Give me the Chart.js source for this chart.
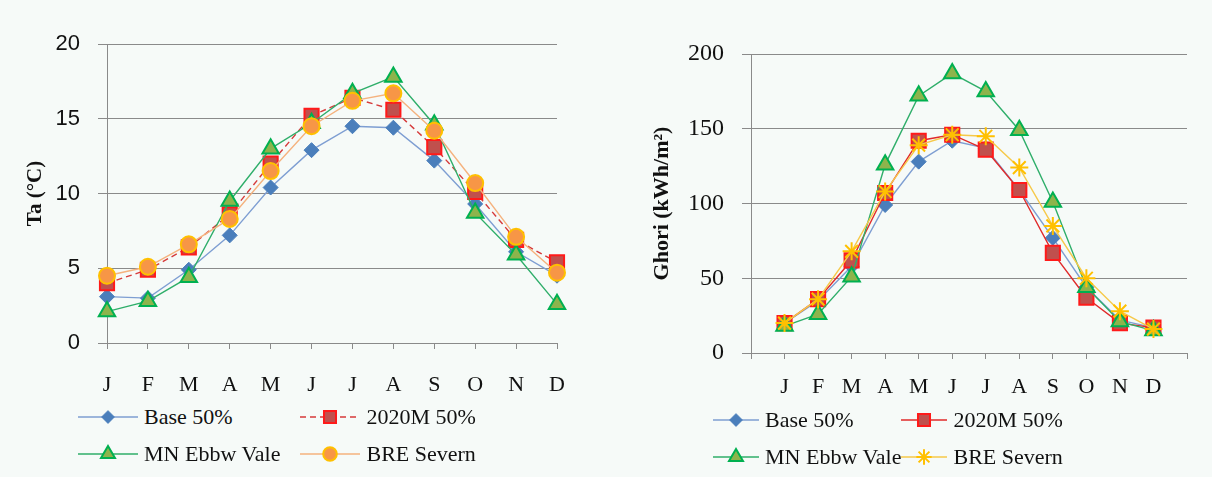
<!DOCTYPE html>
<html lang="en">
<head>
    <meta charset="UTF-8">
    <title>Ta and Ghori by month</title>
    <style>
        body { margin: 0; background: #f6faf8; }
        .page { position: relative; width: 1212px; height: 477px; background: #f6faf8; overflow: hidden; }
        .box { position: absolute; top: 0; }
        .legend { position: absolute; display: grid; grid-template-columns: auto auto; row-gap: 10px;
                  font-family: "Liberation Serif", serif; font-size: 22px; color: #111; }
        .legend .item { display: flex; align-items: center; height: 27px; }
        .legend canvas { margin-right: 6px; }
    </style>
</head>
<body>
<div class="page">
    <div class="box" style="left:0; width:600px; height:400px;"><canvas id="graficaTa"></canvas></div>
    <div class="box" style="left:600px; width:612px; height:410px;"><canvas id="graficaGhori"></canvas></div>
    <div class="legend" id="leyendaTa" style="left:78px; top:403px; column-gap:20px;"></div>
    <div class="legend" id="leyendaGhori" style="left:713px; top:406px; column-gap:0px;"></div>
</div>

<script src="https://cdn.jsdelivr.net/npm/chart.js"></script>
<script>
    // month initials
    const meses = ['J', 'F', 'M', 'A', 'M', 'J', 'J', 'A', 'S', 'O', 'N', 'D'];
    const nombres = ['Base 50%', '2020M 50%', 'MN Ebbw Vale', 'BRE Severn'];

    // Ta (°C)
    const taBase = [3.1, 3.0, 4.9, 7.2, 10.4, 12.9, 14.5, 14.4, 12.2, 9.3, 6.1, 4.5];
    const ta2020 = [4.0, 4.9, 6.4, 8.6, 12.0, 15.2, 16.4, 15.6, 13.1, 10.1, 6.9, 5.4];
    const taEbbw = [2.1, 2.8, 4.4, 9.5, 13.0, 14.7, 16.7, 17.8, 14.6, 8.7, 5.9, 2.6];
    const taSevern = [4.5, 5.1, 6.6, 8.3, 11.5, 14.5, 16.2, 16.7, 14.2, 10.7, 7.1, 4.7];
    const taTicks = [0, 5, 10, 15, 20];

    // Ghori (kWh/m2)
    const ghBase = [20, 35, 58, 99, 128, 142, 137, 109, 77, 44, 22, 17];
    const gh2020 = [20, 36, 62, 107, 142, 146, 136, 109, 67, 37, 20, 17];
    const ghEbbw = [18, 26, 51, 126, 172, 187, 175, 149, 101, 44, 21, 15];
    const ghSevern = [20, 36, 68, 108, 139, 146, 145, 124, 85, 50, 28, 16];
    const ghTicks = [0, 50, 100, 150, 200];

    const gris = '#8a8a8a';

    const estilosTa = [
        { borderColor: '#7e9ed2', backgroundColor: '#4a7ebb', pointBorderColor: '#4a7ebb', pointStyle: 'rectRot', pointRadius: 7.5, pointBorderWidth: 1 },
        { borderColor: '#d63a3a', backgroundColor: '#c0504d', pointBorderColor: '#ff1a1a', pointStyle: 'rect', pointRadius: 10, pointBorderWidth: 2, borderDash: [6, 4] },
        { borderColor: '#2fae6a', backgroundColor: '#8db44c', pointBorderColor: '#00b050', pointStyle: 'triangle', pointRadius: 9.5, pointBorderWidth: 2 },
        { borderColor: '#f5b27e', backgroundColor: '#f79646', pointBorderColor: '#ffc000', pointStyle: 'circle', pointRadius: 8, pointBorderWidth: 2 }
    ];
    const estilosGh = [
        estilosTa[0],
        { borderColor: '#e02a2a', backgroundColor: '#c0504d', pointBorderColor: '#ff1a1a', pointStyle: 'rect', pointRadius: 10, pointBorderWidth: 2 },
        estilosTa[2],
        { borderColor: '#f6c94a', backgroundColor: '#ffc000', pointBorderColor: '#ffc000', pointStyle: 'star', pointRadius: 9, pointBorderWidth: 2 }
    ];

    function series(valores, estilos, relleno) {
        return valores.map((v, i) => Object.assign({
            label: nombres[i],
            data: relleno ? [null, ...v, null] : v,
            borderWidth: 1.4,
            tension: 0,
            clip: false,
            order: 4 - i
        }, estilos[i]));
    }

    function opciones(cfg) {
        return {
            responsive: true,
            maintainAspectRatio: false,
            animation: false,
            layout: { padding: cfg.padding },
            plugins: { legend: { display: false }, tooltip: { enabled: false } },
            scales: {
                x: {
                    offset: false,
                    grid: { drawOnChartArea: false, tickLength: 6, color: gris },
                    border: { color: gris },
                    ticks: { autoSkip: false, maxRotation: 0, padding: cfg.xPad, color: '#111',
                             font: { family: 'Liberation Serif', size: 22 } },
                    afterFit: s => { s.height = 57; }
                },
                y: {
                    min: cfg.ticks[0],
                    max: cfg.ticks[cfg.ticks.length - 1],
                    afterBuildTicks: s => { s.ticks = cfg.ticks.map(v => ({ value: v })); },
                    grid: { tickLength: 9, color: gris },
                    border: { color: gris },
                    ticks: { padding: 18, color: '#111', font: cfg.tickFont },
                    title: { display: true, text: cfg.titulo, color: '#111', padding: { top: cfg.titlePad, bottom: 0 },
                             font: { family: 'Liberation Serif', size: cfg.titleSize, weight: 'bold' } },
                    afterFit: s => { s.width = cfg.yWidth; }
                }
            }
        };
    }

    new Chart(document.getElementById('graficaTa'), {
        type: 'line',
        data: { labels: meses, datasets: series([taBase, ta2020, taEbbw, taSevern], estilosTa, false) },
        options: opciones({
            padding: { top: 44, right: 43, left: 0, bottom: 0 },
            ticks: taTicks, titulo: 'Ta (°C)', titlePad: 23, titleSize: 21, yWidth: 107, xPad: 23,
            tickFont: { family: 'Liberation Sans', size: 22 }
        })
    });

    new Chart(document.getElementById('graficaGhori'), {
        type: 'line',
        data: { labels: ['', ...meses, ''], datasets: series([ghBase, gh2020, ghEbbw, ghSevern], estilosGh, true) },
        options: opciones({
            padding: { top: 54, right: 25, left: 0, bottom: 0 },
            ticks: ghTicks, titulo: 'Ghori (kWh/m²)', titlePad: 49, titleSize: 22, yWidth: 151, xPad: 15,
            tickFont: { family: 'Liberation Serif', size: 24 }
        })
    });

    // legend: line with the series marker, drawn with Chart.js helpers
    function leyenda(id, estilos, ancho) {
        const cont = document.getElementById(id);
        estilos.forEach((e, i) => {
            const item = document.createElement('div');
            item.className = 'item';
            const c = document.createElement('canvas');
            c.width = ancho; c.height = 24;
            const ctx = c.getContext('2d');
            ctx.strokeStyle = e.borderColor;
            ctx.lineWidth = 1.4;
            ctx.setLineDash(e.borderDash || []);
            ctx.beginPath(); ctx.moveTo(0, 12); ctx.lineTo(ancho, 12); ctx.stroke();
            ctx.setLineDash([]);
            ctx.fillStyle = e.backgroundColor;
            ctx.strokeStyle = e.pointBorderColor;
            ctx.lineWidth = e.pointBorderWidth;
            Chart.helpers.drawPoint(ctx, { pointStyle: e.pointStyle, radius: e.pointRadius * 0.85, rotation: 0, borderWidth: e.pointBorderWidth }, ancho / 2, 12);
            const txt = document.createElement('span');
            txt.textContent = nombres[i];
            item.appendChild(c);
            item.appendChild(txt);
            cont.appendChild(item);
        });
    }
    leyenda('leyendaTa', estilosTa, 60);
    leyenda('leyendaGhori', estilosGh, 46);
</script>
</body>
</html>
